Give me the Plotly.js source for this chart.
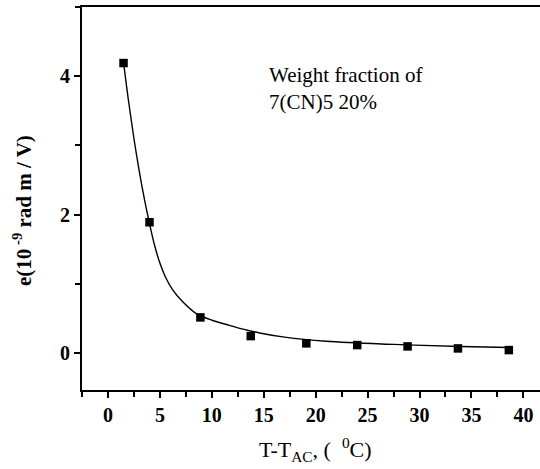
<!DOCTYPE html>
<html>
<head>
<meta charset="utf-8">
<script src="https://cdn.plot.ly/plotly-3.0.1.min.js"></script>
<style>
body{margin:0;padding:0;background:#fff;}
</style>
</head>
<body>
<div id="chart"></div>
<script>
// measured points
var dataX = [1.5, 4.0, 8.9, 13.75, 19.1, 24.0, 28.85, 33.7, 38.6];
var dataY = [4.19, 1.89, 0.515, 0.245, 0.14, 0.115, 0.096, 0.067, 0.043];
// fitted curve
var fitX = [1.5, 2.0, 2.5, 3.0, 3.5, 4.0, 4.5, 5.0, 5.5, 6.2, 7.2, 8.5, 10.1, 11.7, 13.0, 14.6, 17, 21, 27.5, 33.9, 38.7];
var fitY = [4.2, 3.62, 3.10, 2.64, 2.23, 1.87, 1.55, 1.30, 1.11, 0.92, 0.74, 0.57, 0.47, 0.40, 0.345, 0.29, 0.23, 0.17, 0.125, 0.095, 0.08];
var xTickVals = [0, 5, 10, 15, 20, 25, 30, 35, 40];
var yTickVals = [0, 2, 4];
var noteText = "Weight fraction of<br>7(CN)5 20%";
var yTitle = "<b>e(10<sup> -9</sup> rad m / V)</b>";
var xTitle = "T-T<sub>AC</sub>, (  <sup>0</sup>C)";

var traces = [
  {x: fitX, y: fitY, mode: 'lines', line: {color: '#000', width: 1.4, shape: 'spline', smoothing: 1}, hoverinfo: 'skip'},
  {x: dataX, y: dataY, mode: 'markers', marker: {symbol: 'square', size: 8.5, color: '#000'}}
];

var layout = {
  width: 540, height: 469,
  margin: {l: 82, r: 0, t: 7, b: 79},
  paper_bgcolor: '#fff', plot_bgcolor: '#fff',
  showlegend: false,
  font: {family: 'Liberation Serif', size: 20, color: '#000'},
  xaxis: {
    range: [-2.5, 41.6], showgrid: false, zeroline: false,
    showline: true, linecolor: '#000', linewidth: 2, mirror: true,
    ticks: 'outside', ticklen: 6, tickwidth: 1.5, tickcolor: '#000',
    tickvals: xTickVals, ticktext: xTickVals.map(function (v) { return '<b>' + v + '</b>'; }),
    minor: {dtick: 2.5, tick0: 0, ticks: 'outside', ticklen: 5, tickwidth: 1.5, tickcolor: '#000'}
  },
  yaxis: {
    range: [-0.534, 5.0], showgrid: false, zeroline: false,
    showline: true, linecolor: '#000', linewidth: 2, mirror: false,
    ticks: 'outside', ticklen: 6, tickwidth: 1.5, tickcolor: '#000',
    tickvals: yTickVals, ticktext: yTickVals.map(function (v) { return '<b>' + v + '</b>'; }),
    minor: {dtick: 1, tick0: 0, ticks: 'outside', ticklen: 5, tickwidth: 1.5, tickcolor: '#000'}
  },
  annotations: [
    {text: noteText, xref: 'paper', yref: 'paper', x: (267 - 82) / 458, y: (390 - 61) / 383,
     xanchor: 'left', yanchor: 'top', align: 'left', showarrow: false,
     font: {family: 'Liberation Serif', size: 21, color: '#000'}},
    {text: yTitle, xref: 'paper', yref: 'paper', x: (22 - 82) / 458, y: (390 - 211) / 383,
     xanchor: 'center', yanchor: 'middle', textangle: -90, showarrow: false,
     font: {family: 'Liberation Serif', size: 21, color: '#000'}},
    {text: xTitle, xref: 'paper', yref: 'paper', x: (315 - 82) / 458, y: (390 - 450) / 383,
     xanchor: 'center', yanchor: 'middle', showarrow: false,
     font: {family: 'Liberation Serif', size: 22, color: '#000'}}
  ]
};

function draw() {
  Plotly.newPlot('chart', traces, layout, {displayModeBar: false});
}
if (document.fonts && document.fonts.load) {
  Promise.all([
    document.fonts.load('20px "Liberation Serif"'),
    document.fonts.load('bold 20px "Liberation Serif"')
  ]).then(draw, draw);
} else {
  draw();
}
</script>
</body>
</html>
